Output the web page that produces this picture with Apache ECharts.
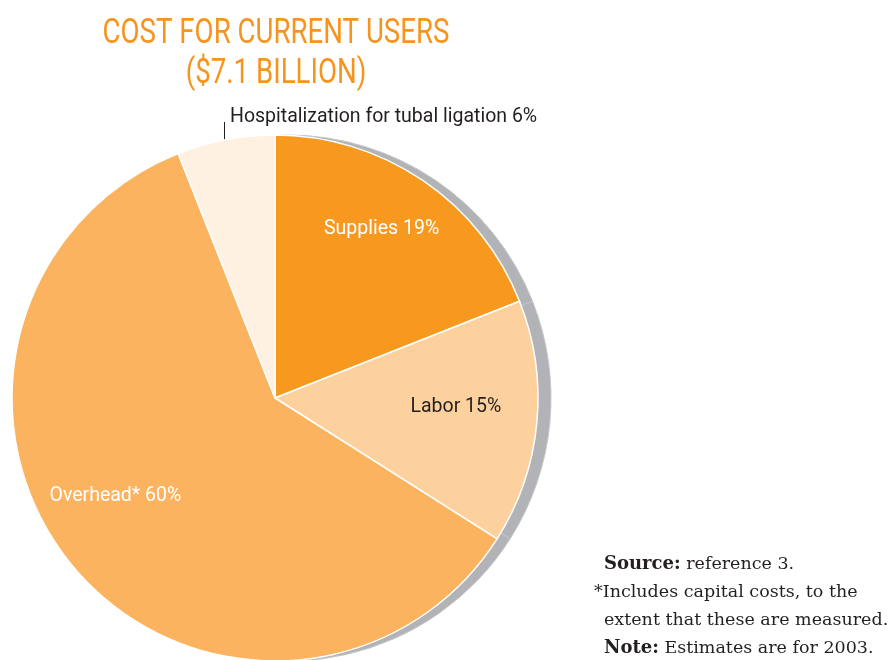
<!DOCTYPE html>
<html>
<head>
<meta charset="utf-8">
<script src="https://cdn.jsdelivr.net/npm/echarts@6/dist/echarts.min.js"></script>
<style>html,body{margin:0;padding:0;background:#fff}#c{width:891px;height:660px}</style>
</head>
<body>
<div id="c"></div>
<script>
const titleLines = ['COST FOR CURRENT USERS', '($7.1 BILLION)'];
const categories = ['Supplies', 'Labor', 'Overhead*', 'Hospitalization for tubal ligation'];
const shares = [19, 15, 60, 6];
const sliceColors = ['#F7981F', '#FCD19D', '#FBB35F', '#FEF1E2'];
const labelColors = ['#ffffff', '#231F20', '#ffffff', '#231F20'];
const noteLines = [
  ['{b|Source:} reference 3.', 604],
  ['*Includes capital costs, to the', 594],
  ['extent that these are measured.', 604],
  ['{b|Note:} Estimates are for 2003.', 604]
];

const chart = echarts.init(document.getElementById('c'), null, {renderer: 'canvas'});
const CX = 275, CY = 398, R = 263;
const labelShift = [[31, -58], [47, -4], [-56, 12], null];
const SANS = '"Liberation Sans Narrow", Roboto, sans-serif';

const data = categories.map((c, i) => ({
  name: c,
  value: shares[i],
  itemStyle: {color: sliceColors[i]},
  label: {color: labelColors[i]}
}));

const graphics = [];
titleLines.forEach((t, i) => {
  graphics.push({
    type: 'text', x: 276, y: 52 + i * 40, scaleX: 0.79, originX: 0, originY: 0,
    style: {text: t, x: 0, y: 0, fill: '#F7941D', font: '35px ' + SANS, textAlign: 'center', textVerticalAlign: 'bottom'}
  });
});
noteLines.forEach((n, i) => {
  graphics.push({
    type: 'text', x: n[1], y: 573 + i * 28,
    style: {
      text: n[0], fill: '#231F20', font: '17.5px "DejaVu Serif"', textVerticalAlign: 'bottom',
      rich: {b: {fontWeight: 'bold', fontFamily: 'DejaVu Serif', fontSize: 18, fill: '#231F20'}}
    }
  });
});
graphics.push({type: 'line', shape: {x1: 224.5, y1: 122, x2: 224.5, y2: 143}, style: {stroke: '#231F20', lineWidth: 1}});

chart.setOption({
  animation: false,
  backgroundColor: '#ffffff',
  graphic: graphics,
  series: [
    {
      type: 'pie', silent: true, z: 1,
      center: [CX + 13, CY], radius: R, startAngle: 90, clockwise: true,
      label: {show: false}, labelLine: {show: false},
      itemStyle: {color: '#B1B3B6', borderColor: '#C4C6C8', borderWidth: 1},
      data: shares.map((v, i) => ({name: categories[i], value: v}))
    },
    {
      type: 'pie', z: 2,
      center: [CX, CY], radius: R, startAngle: 90, clockwise: true,
      itemStyle: {borderColor: '#ffffff', borderWidth: 1.5},
      label: {
        show: true, position: 'inside', fontFamily: SANS, fontSize: 19.5,
        formatter: p => p.name + ' ' + p.value + '%'
      },
      labelLine: {show: false},
      labelLayout: function (p) {
        const s = labelShift[p.dataIndex];
        if (s) return {dx: s[0], dy: s[1]};
        return {x: 230, y: 117, align: 'left', verticalAlign: 'middle'};
      },
      data: data
    }
  ]
});
</script>
</body>
</html>
